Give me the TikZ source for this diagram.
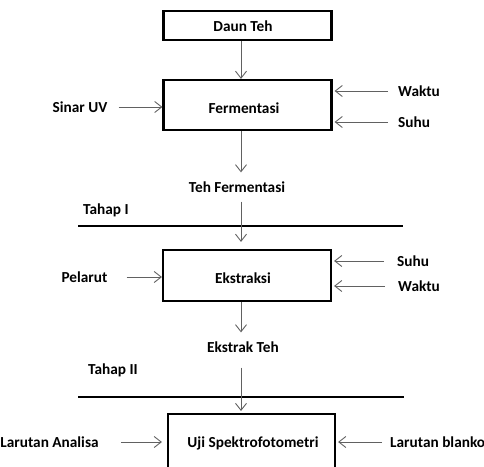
\documentclass[tikz,border=0pt]{standalone}
\usepackage{fontspec}
\setmainfont{Carlito}
\usetikzlibrary{arrows.meta}
\begin{document}
\begin{tikzpicture}[x=1pt,y=-1pt,
  box/.style={draw=black,line width=2.2pt,minimum width=168pt,inner sep=0pt},
  lbl/.style={font=\fontsize{15.3}{17}\selectfont\bfseries,inner sep=0pt,text=black},
  flow/.style={draw=black!62,line width=0.9pt,-{Straight Barb[length=7pt,width=11pt,line width=0.9pt]}},
  stage/.style={draw=black,line width=2.4pt}]
\useasboundingbox (0,0) rectangle (484,466);
\clip (0,0) rectangle (484,466);
\coordinate (cx) at (241,0);
% boxes
\node[box,minimum height=29pt] (daun) at (247.5,25.5) {};
\node[lbl] (tdaun) at (243,26) {Daun Teh};
\node[box,minimum height=50pt] (ferm) at (247.5,105) {};
\node[lbl] (tferm) at (244,108) {Fermentasi};
\node[box,minimum height=51pt] (ekst) at (247,275.5) {};
\node[lbl] (tekst) at (243,278) {Ekstraksi};
\node[box,minimum width=167pt,minimum height=70pt,anchor=north] (uji) at (251.5,413) {};
\node[lbl] (tuji) at (253,443) {Uji Spektrofotometri};
% side labels
\node[lbl] (uv) at (80,107) {Sinar UV};
\node[lbl,anchor=west] (w1) at (398,91) {Waktu};
\node[lbl,anchor=west] (s1) at (398,122) {Suhu};
\node[lbl] (tehf) at (237,187) {Teh Fermentasi};
\node[lbl,anchor=west] (t1) at (83,210) {Tahap I};
\node[lbl] (pel) at (84.5,277) {Pelarut};
\node[lbl,anchor=west] (s2) at (397,261) {Suhu};
\node[lbl,anchor=west] (w2) at (398,286) {Waktu};
\node[lbl] (ekt) at (243,347) {Ekstrak Teh};
\node[lbl,anchor=west] (t2) at (88,370) {Tahap II};
\node[lbl] (la) at (49.5,442) {Larutan Analisa};
\node[lbl,anchor=west] (lb) at (390,442) {Larutan blanko};
% stage lines
\draw[stage] (78,226) -- (403,226);
\draw[stage] (78,397) -- (404,397);
% connectors
\draw[flow] (daun.south -| cx) -- (ferm.north -| cx);
\draw[flow] (ferm.south -| cx) -- ([yshift=9pt]tehf.north -| cx);
\draw[flow] ([yshift=-9pt]tehf.south -| cx) -- ([yshift=7pt]ekst.north -| cx);
\draw[flow] (ekst.south -| cx) -- ([yshift=9pt]ekt.north -| cx);
\draw[flow] ([yshift=-15pt]ekt.south -| cx) -- ([yshift=2pt]uji.north -| cx);
\draw[flow] ([xshift=11pt]uv.east) -- (ferm.west |- uv);
\draw[flow] ([xshift=-10pt]w1.west) -- ([xshift=2pt]ferm.east |- w1);
\draw[flow] ([xshift=-10pt]s1.west) -- ([xshift=2pt]ferm.east |- s1);
\draw[flow] ([xshift=19pt]pel.east) -- (ekst.west |- pel);
\draw[flow] ([xshift=-13pt]s2.west) -- ([xshift=2pt]ekst.east |- s2);
\draw[flow] ([xshift=-13pt]w2.west) -- ([xshift=2pt]ekst.east |- w2);
\draw[flow] ([xshift=22pt]la.east) -- ([xshift=-5pt]uji.west |- la);
\draw[flow] ([xshift=-8pt]lb.west) -- ([xshift=2pt]uji.east |- lb);
\end{tikzpicture}
\end{document}
